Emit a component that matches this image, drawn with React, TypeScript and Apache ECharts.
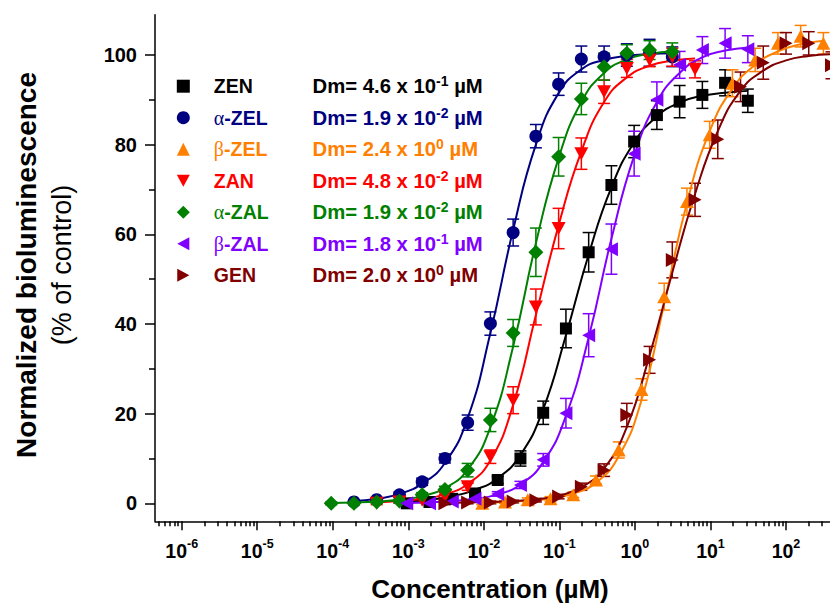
import React, { useEffect, useRef } from 'react';
import * as echarts from 'echarts';

const SANS = '"Liberation Sans", Arial, Helvetica, sans-serif';
const SERIF = '"Liberation Serif", "Times New Roman", serif';

// ---- legend / identity ----
const seriesNames = ['ZEN', 'α-ZEL', 'β-ZEL', 'ZAN', 'α-ZAL', 'β-ZAL', 'GEN'];
const seriesColors = ['#000000', '#000080', '#FF8000', '#FF0000', '#008000', '#8000FF', '#800000'];
const dmMantissa = ['4.6', '1.9', '2.4', '4.8', '1.9', '1.8', '2.0'];
const dmExponent = ['-1', '-2', '0', '-2', '-2', '-1', '0'];

// ---- axis ticks ----
const xMajorExp = [-6, -5, -4, -3, -2, -1, 0, 1, 2];
const xTickLabels = ['-6', '-5', '-4', '-3', '-2', '-1', '0', '1', '2'];
const xMinorMultipliers = [2, 3, 4, 5, 6, 7, 8, 9];
const xMinorDecades = [-7, -6, -5, -4, -3, -2, -1, 0, 1, 2];
const yMajorTicks = [0, 20, 40, 60, 80, 100];
const yMinorTicks = [10, 30, 50, 70, 90];

// ---- concentrations (µM) ----
const concZEN = [0.00095367, 0.0019073, 0.0038147, 0.0076294, 0.015259, 0.030518, 0.061035, 0.12207, 0.24414, 0.48828, 0.97656, 1.9531, 3.9063, 7.8125, 15.625, 31.25];
const concAZEL = [0.00019073, 0.00038147, 0.00076294, 0.0015259, 0.0030518, 0.0061035, 0.012207, 0.024414, 0.048828, 0.097656, 0.19531, 0.39063, 0.78125, 1.5625, 3.125];
const concBZEL = [0.0095367, 0.019073, 0.038147, 0.076294, 0.15259, 0.30518, 0.61035, 1.2207, 2.4414, 4.8828, 9.7656, 19.531, 39.063, 78.125, 156.25, 312.5];
const concZAN = [0.00038147, 0.00076294, 0.0015259, 0.0030518, 0.0061035, 0.012207, 0.024414, 0.048828, 0.097656, 0.19531, 0.39063, 0.78125, 1.5625, 3.125, 6.25];
const concAZAL = [0.000095367, 0.00019073, 0.00038147, 0.00076294, 0.0015259, 0.0030518, 0.0061035, 0.012207, 0.024414, 0.048828, 0.097656, 0.19531, 0.39063, 0.78125, 1.5625, 3.125];
const concBZAL = [0.00095367, 0.0019073, 0.0038147, 0.0076294, 0.015259, 0.030518, 0.061035, 0.12207, 0.24414, 0.48828, 0.97656, 1.9531, 3.9063, 7.8125, 15.625, 31.25];
const concGEN = [0.0030518, 0.0061035, 0.012207, 0.024414, 0.048828, 0.097656, 0.19531, 0.39063, 0.78125, 1.5625, 3.125, 6.25, 12.5, 25, 50, 100, 200, 400];

// ---- measured means (% of control) ----
const meanZEN = [0, 0.3, 1.0, 2.2, 5.2, 10.0, 20.2, 39.0, 56.0, 71.0, 80.7, 86.6, 89.6, 91.1, 93.8, 89.8];
const meanAZEL = [0.3, 0.8, 1.9, 4.8, 10.0, 18.0, 40.1, 60.4, 81.9, 93.5, 99.1, 99.6, 100.0, 100.5, 99.6];
const meanBZEL = [0, 0.3, 0.8, 1.0, 1.9, 5.2, 11.9, 25.4, 46.1, 67.3, 82.2, 93.7, 98.9, 102.6, 104.2, 102.6];
const meanZAN = [0, 0.3, 0.7, 1.5, 3.7, 10.4, 23.0, 43.8, 61.3, 78.0, 91.8, 97.0, 98.9, 99.5, 96.8];
const meanAZAL = [0, 0, 0.3, 0.5, 1.9, 3.1, 7.4, 18.6, 38.0, 56.0, 77.3, 90.2, 97.4, 100.4, 101.1, 100.7];
const meanBZAL = [0, 0, 0.4, 1.0, 2.1, 4.1, 9.7, 20.1, 37.5, 56.7, 78.0, 90.0, 97.8, 101.1, 102.6, 101.3];
const meanGEN = [0, 0.2, 0.2, 0.4, 0.7, 1.5, 3.7, 7.4, 19.7, 32.0, 54.3, 67.7, 81.2, 92.9, 98.3, 102.6, 102.6, 97.7];

// ---- error bars (±) ----
const errZEN = [0.3, 0.3, 0.4, 0.6, 0.8, 1.7, 2.6, 4.3, 4.4, 4.3, 3.6, 3.2, 3.6, 3.0, 2.9, 2.6];
const errAZEL = [0.3, 0.4, 0.6, 0.8, 1.0, 1.7, 2.6, 3.0, 2.6, 2.5, 2.9, 2.4, 2.5, 3.0, 2.2];
const errBZEL = [0.3, 0.3, 0.4, 0.5, 0.6, 0.9, 1.8, 2.4, 3.0, 3.0, 3.0, 3.0, 2.6, 2.4, 2.4, 2.4];
const errZAN = [0.3, 0.3, 0.4, 0.5, 0.8, 1.5, 3.0, 4.0, 4.5, 3.5, 2.6, 2.0, 1.5, 2.0, 1.9];
const errAZAL = [0.3, 0.3, 0.3, 0.4, 0.5, 0.7, 1.5, 2.6, 3.0, 5.4, 4.3, 3.5, 3.0, 1.9, 2.1, 2.0];
const errBZAL = [0.3, 0.3, 0.3, 0.4, 0.5, 0.8, 1.4, 3.3, 4.8, 5.6, 5.0, 4.0, 3.0, 3.0, 3.3, 3.0];
const errGEN = [0.3, 0.3, 0.3, 0.3, 0.4, 0.5, 0.8, 1.4, 2.6, 3.0, 4.0, 3.7, 4.3, 3.3, 3.7, 2.4, 2.6, 3.0];

// ---- fitted curve at each concentration ----
const fitZEN = [0.4, 0.8, 1.6, 3.0, 5.6, 10.8, 21.0, 37.5, 55.5, 70.5, 80.5, 86.3, 89.4, 90.9, 91.6, 92.0];
const fitAZEL = [0.5, 1.0, 2.1, 4.4, 9.0, 19.0, 38.0, 61.0, 80.0, 91.5, 96.8, 98.9, 99.8, 100.2, 100.4];
const fitBZEL = [0.1, 0.3, 0.6, 1.1, 2.2, 4.6, 10.5, 23.0, 44.5, 67.0, 83.0, 92.5, 97.8, 100.8, 102.4, 103.2];
const fitZAN = [0.2, 0.5, 1.0, 2.0, 4.3, 9.6, 22.0, 42.0, 62.0, 78.5, 89.5, 95.0, 97.6, 98.7, 99.2];
const fitAZAL = [0.1, 0.2, 0.4, 0.8, 1.6, 3.4, 7.5, 17.0, 35.0, 58.0, 77.0, 89.5, 96.0, 99.0, 100.3, 100.8];
const fitBZAL = [0.1, 0.2, 0.5, 1.0, 2.0, 4.2, 9.2, 19.5, 37.0, 59.0, 77.5, 89.5, 96.0, 99.5, 101.0, 101.7];
const fitGEN = [0.1, 0.2, 0.3, 0.5, 0.9, 1.7, 3.6, 7.8, 17.0, 33.0, 51.5, 69.0, 83.0, 92.0, 96.5, 98.8, 99.8, 100.2];

const concs = [concZEN, concAZEL, concBZEL, concZAN, concAZAL, concBZAL, concGEN];
const means = [meanZEN, meanAZEL, meanBZEL, meanZAN, meanAZAL, meanBZAL, meanGEN];
const errs = [errZEN, errAZEL, errBZEL, errZAN, errAZAL, errBZAL, errGEN];
const fits = [fitZEN, fitAZEL, fitBZEL, fitZAN, fitAZAL, fitBZAL, fitGEN];

const symbols = ['rect', 'circle', 'triangle', 'triangle', 'diamond', 'triangle', 'triangle'];
const symbolSizes: any[] = [12, 13, [14, 13], [14, 13], [15, 15], [14, 13], [14, 13]];
const symbolRotates = [0, 0, 0, 180, 0, 90, -90];
const legendIcons = [
  'rect',
  'circle',
  'triangle',
  'path://M0,0L14,0L7,13Z',
  'diamond',
  'path://M13,0L13,14L0,7Z',
  'path://M0,0L0,14L13,7Z',
];

function buildOption() {
  const series: any[] = [];
  seriesNames.forEach((name, i) => {
    const color = seriesColors[i];
    const xs = concs[i].map((c) => Math.log10(c));
    series.push({
      type: 'line',
      name: name + ' fit',
      data: xs.map((x, k) => [x, fits[i][k]]),
      smooth: 0.5,
      showSymbol: false,
      symbol: 'none',
      silent: true,
      lineStyle: { color, width: 2 },
      z: 2,
    });
    series.push({
      type: 'custom',
      name: name + ' err',
      data: xs.map((x, k) => [x, means[i][k], errs[i][k]]),
      encode: { x: 0, y: 1 },
      silent: true,
      z: 2,
      renderItem: (params: any, api: any) => {
        const x = api.value(0);
        const y = api.value(1);
        const e = api.value(2);
        const top = api.coord([x, y + e]);
        const bot = api.coord([x, y - e]);
        const half = 6;
        const st = { stroke: color, lineWidth: 1.5 };
        return {
          type: 'group',
          children: [
            { type: 'line', shape: { x1: top[0], y1: top[1], x2: bot[0], y2: bot[1] }, style: st },
            { type: 'line', shape: { x1: top[0] - half, y1: top[1], x2: top[0] + half, y2: top[1] }, style: st },
            { type: 'line', shape: { x1: bot[0] - half, y1: bot[1], x2: bot[0] + half, y2: bot[1] }, style: st },
          ],
        };
      },
    });
    series.push({
      type: 'scatter',
      name,
      data: xs.map((x, k) => [x, means[i][k]]),
      symbol: symbols[i],
      symbolSize: symbolSizes[i],
      symbolRotate: symbolRotates[i],
      itemStyle: { color, opacity: 1 },
      silent: true,
      z: 2,
    });
  });

  const rich1: any = {};
  const rich2: any = {};
  seriesColors.forEach((c, i) => {
    rich1['n' + i] = { color: c, fontSize: 19.5, fontWeight: 'bold', lineHeight: 24, fontFamily: SANS };
    rich1['g' + i] = { color: c, fontSize: 20, fontWeight: 'normal', lineHeight: 24, fontFamily: SERIF };
    rich2['d' + i] = { color: c, fontSize: 20.3, fontWeight: 'bold', lineHeight: 24, fontFamily: SANS };
    rich2['u' + i] = { color: c, fontSize: 14, fontWeight: 'bold', lineHeight: 14, verticalAlign: 'top', fontFamily: SANS };
  });

  const xMinor: number[] = [];
  xMinorDecades.forEach((d) => xMinorMultipliers.forEach((m) => xMinor.push(Math.log10(m) + d)));

  const xMin = -6.3535;
  const xMax = 2.65;
  const yMin = -4;
  const yMax = 109;

  const axisLineStyle = { color: '#000', width: 1.5 };

  return {
    animation: false,
    backgroundColor: '#ffffff',
    textStyle: { fontFamily: SANS },
    grid: { left: 155, top: 14.66, width: 680.1, height: 506.6, containLabel: false, outerBoundsMode: 'none' },
    legend: [
      {
        orient: 'vertical',
        left: 176.8,
        top: 74.2,
        padding: 0,
        itemWidth: 13,
        itemHeight: 13,
        itemGap: 7.5,
        symbolRotate: 0,
        selectedMode: false,
        textStyle: { padding: [0, 0, 0, 19], height: 24, lineHeight: 24, rich: rich1 },
        data: seriesNames.map((n, i) => ({ name: n, icon: legendIcons[i] })),
        formatter: (name: string) => {
          const i = seriesNames.indexOf(name);
          const first = name.charAt(0);
          if (first === 'α' || first === 'β') {
            return `{g${i}|${first}}{n${i}|${name.slice(1)}}`;
          }
          return `{n${i}|${name}}`;
        },
      },
      {
        orient: 'vertical',
        left: 306.6,
        top: 74.2,
        padding: 0,
        itemWidth: 1,
        itemHeight: 13,
        itemGap: 7.5,
        symbolRotate: 0,
        selectedMode: false,
        itemStyle: { opacity: 0 },
        textStyle: { height: 24, lineHeight: 24, rich: rich2 },
        data: seriesNames.map((n) => ({ name: n, icon: 'rect', itemStyle: { opacity: 0 } })),
        formatter: (name: string) => {
          const i = seriesNames.indexOf(name);
          return `{d${i}|Dm= ${dmMantissa[i]} x 10}{u${i}|${dmExponent[i]}}{d${i}| µM}`;
        },
      },
    ],
    xAxis: [
      {
        type: 'value',
        min: xMin,
        max: xMax,
        position: 'bottom',
        axisLine: { show: true, onZero: false, lineStyle: axisLineStyle },
        axisTick: { show: true, customValues: xMajorExp, length: 9, lineStyle: axisLineStyle },
        axisLabel: {
          show: true,
          customValues: xMajorExp,
          margin: 16,
          formatter: (v: number) => {
            const idx = xMajorExp.findIndex((e) => Math.abs(e - v) < 1e-6);
            return `{b|10}{s|${xTickLabels[idx]}}`;
          },
          rich: {
            b: { fontSize: 19.5, fontWeight: 'bold', color: '#000', lineHeight: 28, fontFamily: SANS },
            s: { fontSize: 12.5, fontWeight: 'bold', color: '#000', lineHeight: 12, verticalAlign: 'top', fontFamily: SANS },
          },
        },
        splitLine: { show: false },
        name: 'Concentration (µM)',
        nameLocation: 'middle',
        nameGap: 55,
        nameTextStyle: { fontSize: 26, fontWeight: 'bold', color: '#000', fontFamily: SANS, padding: [0, 10, 0, 0] },
      },
      {
        type: 'value',
        min: xMin,
        max: xMax,
        position: 'bottom',
        axisLine: { show: false, onZero: false },
        axisTick: { show: true, customValues: xMinor, length: 5, lineStyle: axisLineStyle },
        axisLabel: { show: false },
        splitLine: { show: false },
      },
    ],
    yAxis: [
      {
        type: 'value',
        min: yMin,
        max: yMax,
        position: 'left',
        axisLine: { show: true, onZero: false, lineStyle: axisLineStyle },
        axisTick: { show: true, customValues: yMajorTicks, length: 10, lineStyle: axisLineStyle },
        axisLabel: {
          show: true,
          customValues: yMajorTicks,
          margin: 18,
          fontSize: 20,
          fontWeight: 'bold',
          color: '#000',
          fontFamily: SANS,
        },
        splitLine: { show: false },
        name: '{a|Normalized bioluminescence}\n{b|(% of control)}',
        nameLocation: 'middle',
        nameGap: 74.8,
        nameTextStyle: {
          padding: [0, 0, 0, 6],
          rich: {
            a: { fontSize: 28, fontWeight: 'bold', color: '#000', lineHeight: 36, fontFamily: SANS },
            b: { fontSize: 27, fontWeight: 'normal', color: '#000', lineHeight: 36, fontFamily: SANS },
          },
        },
      },
      {
        type: 'value',
        min: yMin,
        max: yMax,
        position: 'left',
        axisLine: { show: false, onZero: false },
        axisTick: { show: true, customValues: yMinorTicks, length: 6, lineStyle: axisLineStyle },
        axisLabel: { show: false },
        splitLine: { show: false },
      },
    ],
    series,
  };
}

export default function App() {
  const ref = useRef<HTMLDivElement>(null);
  useEffect(() => {
    if (!ref.current) return;
    const chart = echarts.init(ref.current, undefined, { renderer: 'svg' });
    chart.setOption(buildOption() as any);
    return () => {
      chart.dispose();
    };
  }, []);
  return (
    <div
      ref={ref}
      style={{ position: 'absolute', left: 0, top: 0, width: 830, height: 605, background: '#fff' }}
    />
  );
}
